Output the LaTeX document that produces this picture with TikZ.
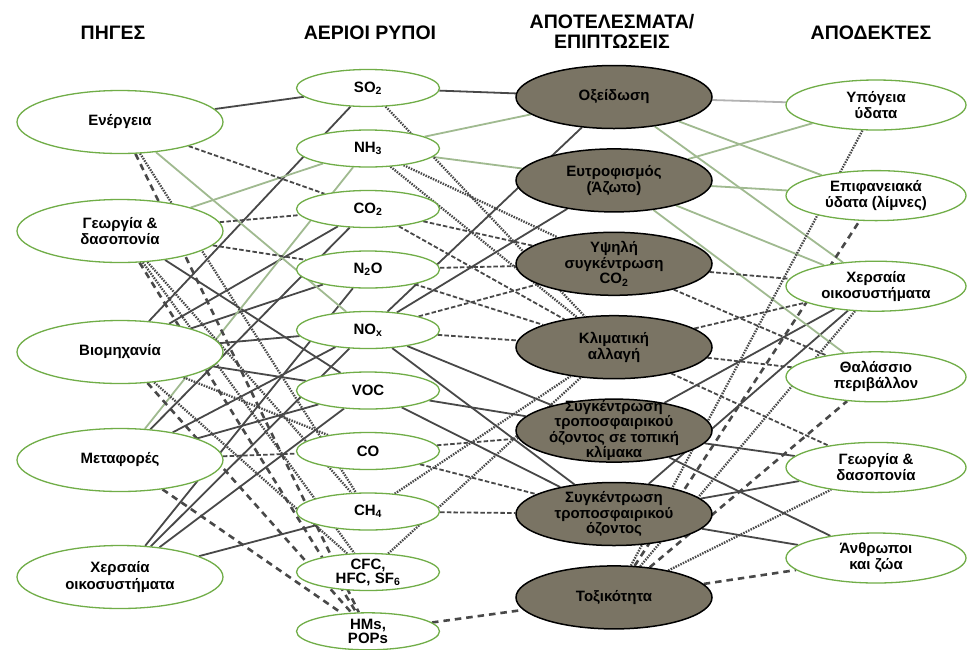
\documentclass[tikz,border=0pt]{standalone}
\usepackage{fontspec}
\setmainfont{Liberation Sans}
\usepackage{tikz}
\usetikzlibrary{shapes,positioning,backgrounds}
\definecolor{leafgreen}{RGB}{112,173,71}
\definecolor{mud}{RGB}{122,116,100}
\definecolor{linkgray}{RGB}{72,72,72}
\definecolor{palegreen}{RGB}{160,186,144}
\tikzstyle{src} = [ellipse, draw=leafgreen, line width=1.3pt, fill=white, text=black, text centered, align=center, font=\bfseries\fontsize{15}{16.5}\selectfont, inner sep=0pt, minimum width=206pt, minimum height=63pt]
\tikzstyle{gas} = [ellipse, draw=leafgreen, line width=1.3pt, fill=white, text=black, text centered, align=center, font=\bfseries\fontsize{15}{14}\selectfont, inner xsep=0pt, inner ysep=-3pt, minimum width=143pt, minimum height=37pt]
\tikzstyle{eff} = [ellipse, draw=black, line width=1.5pt, fill=mud, text=black, text centered, align=center, font=\bfseries\fontsize{15}{15.5}\selectfont, inner xsep=0pt, inner ysep=-2pt, minimum width=196pt, minimum height=63pt]
\tikzstyle{rec} = [ellipse, draw=leafgreen, line width=1.3pt, fill=white, text=black, text centered, align=center, font=\bfseries\fontsize{15}{16}\selectfont, inner sep=0pt, minimum width=180pt, minimum height=50pt]
\tikzstyle{headline} = [draw=none, fill=none, align=center, font=\bfseries\fontsize{19.5}{20}\selectfont]
\tikzstyle{sedge} = [draw=linkgray, line width=1.8pt]
\tikzstyle{gedge} = [draw=palegreen, line width=1.8pt]
\tikzstyle{dedge} = [draw=linkgray, line width=1.8pt, dash pattern=on 4.5pt off 2.2pt]
\tikzstyle{pedge} = [draw=linkgray, line width=2.3pt, dash pattern=on 1.5pt off 1.2pt]
\tikzstyle{hedge} = [draw=linkgray, line width=2.6pt, dash pattern=on 6.5pt off 5pt]

\begin{document}
\begin{tikzpicture}[x=1pt, y=-1pt]
\useasboundingbox (0,0) rectangle (968,649);

% headings ===============================
\node[headline] (hsrc) at (113,33) {ΠΗΓΕΣ};
\node[headline] (hgas) at (370,33) {ΑΕΡΙΟΙ ΡΥΠΟΙ};
\node[headline] (heff) at (612,31) {ΑΠΟΤΕΛΕΣΜΑΤΑ/\\ΕΠΙΠΤΩΣΕΙΣ};
\node[headline] (hrec) at (871,33) {ΑΠΟΔΕΚΤΕΣ};

% sources ================================
\node[src] (en) at (120,122) {Ενέργεια};
\node[src, below=44.7pt of en] (geo) {Γεωργία \&\\δασοπονία};
\node[src, below=56.7pt of geo] (bio) {Βιομηχανία};
\node[src, below=43.7pt of bio] (met) {Μεταφορές};
\node[src, below=52.7pt of met] (xer) {Χερσαία\\οικοσυστήματα};

% pollutants =============================
\node[gas] (so2) at (368,88) {SO\textsubscript{2}};
\node[gas, below=22.2pt of so2] (nh3) {NH\textsubscript{3}};
\node[gas, below=22.2pt of nh3] (co2) {CO\textsubscript{2}};
\node[gas, below=22.2pt of co2] (n2o) {N\textsubscript{2}O};
\node[gas, below=22.2pt of n2o] (nox) {NO\textsubscript{x}};
\node[gas, below=22.2pt of nox] (voc) {VOC};
\node[gas, below=22.2pt of voc] (co) {CO};
\node[gas, below=22.2pt of co] (ch4) {CH\textsubscript{4}};
\node[gas, below=22.2pt of ch4] (cfc) {CFC,\\HFC, SF\textsubscript{6}};
\node[gas, below=21pt of cfc, font=\bfseries\fontsize{15}{13.5}\selectfont] (hms) {HMs,\\POPs};

% effects ================================
\node[eff] (oxy) at (614,97) {Οξείδωση};
\node[eff, below=18.9pt of oxy] (eutr) {Ευτροφισμός\\(Άζωτο)};
\node[eff, below=18.9pt of eutr] (hico) {Υψηλή\\συγκέντρωση\\CO\textsubscript{2}};
\node[eff, below=18.9pt of hico] (clim) {Κλιματική\\αλλαγή};
\node[eff, below=18.9pt of clim, inner ysep=-10pt] (ozloc) {Συγκέντρωση\\τροποσφαιρικού\\όζοντος σε τοπική\\κλίμακα};
\node[eff, below=18.9pt of ozloc] (oztr) {Συγκέντρωση\\τροποσφαιρικού\\όζοντος};
\node[eff, below=18.9pt of oztr] (tox) {Τοξικότητα};

% receptors ==============================
\node[rec] (ground) at (876,105) {Υπόγεια\\ύδατα};
\node[rec, below=39.3pt of ground] (surf) {Επιφανειακά\\ύδατα (λίμνες)};
\node[rec, below=39.3pt of surf] (land) {Χερσαία\\οικοσυστήματα};
\node[rec, below=39.3pt of land] (sea) {Θαλάσσιο\\περιβάλλον};
\node[rec, below=39.3pt of sea] (agri) {Γεωργία \&\\δασοπονία};
\node[rec, below=39.3pt of agri] (human) {Άνθρωποι\\και ζώα};

\begin{scope}[on background layer]
\fill[white] (0,0) rectangle (968,649);
% sources -> pollutants
\path[sedge] (en) edge (so2)
  (bio) edge (so2) edge (co2) edge (n2o) edge (nox) edge (voc)
  (geo) edge (voc)
  (met) edge (co2) edge (nox) edge (voc)
  (xer) edge (n2o) edge (nox) edge (voc) edge (ch4);
\path[gedge] (en) edge (nox) (geo) edge (nh3) (met) edge (nh3);
\path[dedge] (en) edge (co2) (geo) edge (co2) edge (n2o) (met) edge (co);
\path[pedge] (en) edge (ch4) (geo) edge (ch4) edge (cfc) (bio) edge (co) edge (cfc);
\path[hedge] (en) edge (hms) (geo) edge (hms) (bio) edge (hms) (met) edge (hms);

% pollutants -> effects
\path[sedge] (so2) edge (oxy)
  (nox) edge (oxy) edge (eutr) edge (ozloc) edge (oztr)
  (voc) edge (ozloc) edge (oztr);
\path[gedge] (nh3) edge (oxy) edge (eutr);
\path[dedge] (co2) edge (hico) edge (clim) (n2o) edge (hico) edge (clim)
  (nox) edge (hico) edge (clim) (co) edge (ozloc) edge (oztr) (ch4) edge (oztr);
\path[pedge] (so2) edge (clim) (nh3) edge (hico) edge (clim) (ch4) edge (clim) (cfc) edge (clim);
\path[hedge] (hms) edge (tox);

% effects -> receptors
\path[sedge] (ozloc) edge (land) edge (agri) edge (human)
  (oztr) edge (land) edge (agri) edge (human);
\path[gedge, draw=gray!60] (oxy) edge (ground);
\path[gedge] (oxy) edge (surf) edge (land)
  (eutr) edge (ground) edge (surf) edge (land) edge (sea);
\path[dedge] (hico) edge (land) edge (sea) (clim) edge (land) edge (sea) edge (agri);
\path[pedge] (tox) edge (ground) edge (land) edge (agri);
\path[hedge] (tox) edge (surf) edge (sea) edge (human);
\end{scope}

\end{tikzpicture}
\end{document}
